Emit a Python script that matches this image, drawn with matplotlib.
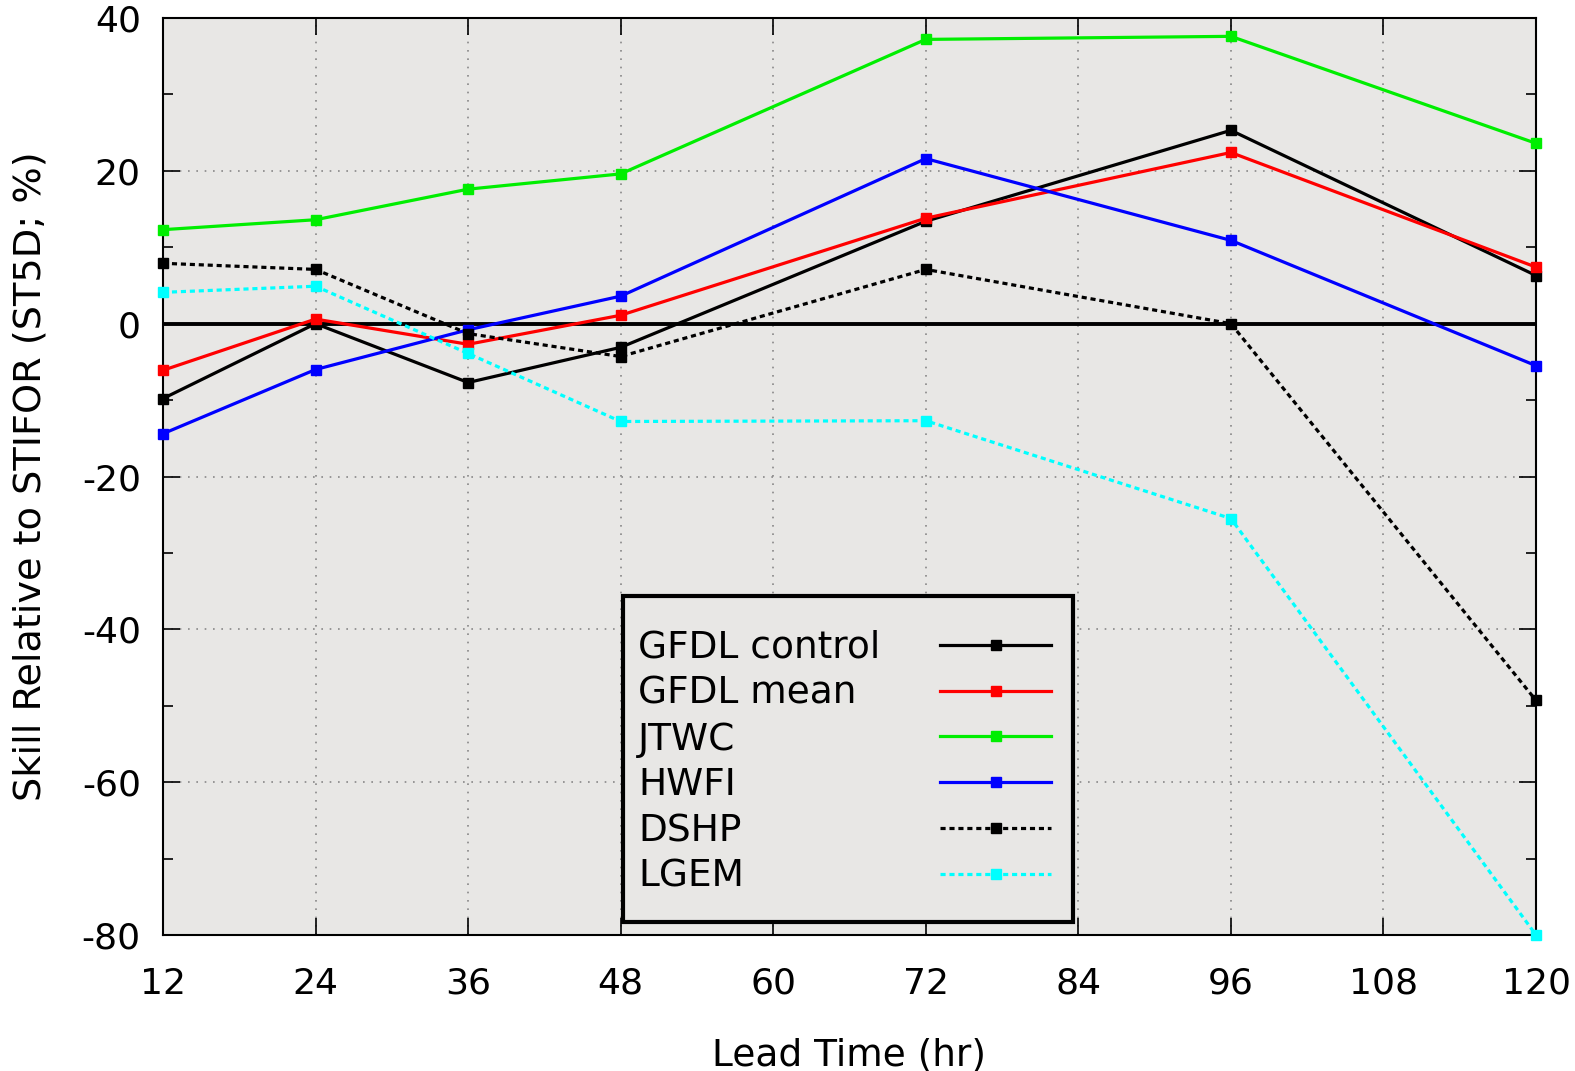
import matplotlib
matplotlib.use("Agg")
import matplotlib.pyplot as plt
from matplotlib.patches import Rectangle

lead = [12, 24, 36, 48, 72, 96, 120]
gfdl_control = [-9.8, 0.0, -7.7, -3.1, 13.4, 25.3, 6.3]
gfdl_mean = [-6.1, 0.6, -2.7, 1.1, 13.8, 22.4, 7.4]
jtwc = [12.3, 13.6, 17.6, 19.6, 37.2, 37.6, 23.6]
hwfi = [-14.4, -6.0, -0.8, 3.6, 21.6, 10.9, -5.5]
dshp = [7.9, 7.1, -1.3, -4.3, 7.1, 0.0, -49.3]
lgem = [4.1, 4.9, -3.9, -12.8, -12.7, -25.5, -80.0]
xticks = [12, 24, 36, 48, 60, 72, 84, 96, 108, 120]
yticks = [-80, -60, -40, -20, 0, 20, 40]

plt.rcParams['font.family'] = ['DejaVu Sans']
plt.rcParams['axes.unicode_minus'] = False
W, H = 1575, 1071
fig = plt.figure(figsize=(W/100, H/100), dpi=100)
AX_L, AX_R, AX_T, AX_B = 163, 1536, 18, 935
ax = fig.add_axes([AX_L/W, 1 - AX_B/H, (AX_R-AX_L)/W, (AX_B-AX_T)/H])
bg = '#e8e7e5'
ax.set_facecolor(bg)

ax.axhline(0, color='black', lw=2.8, zorder=2)
series = [
    ("GFDL control", gfdl_control, 'black', '-'),
    ("GFDL mean", gfdl_mean, '#ff0000', '-'),
    ("JTWC", jtwc, '#00ee00', '-'),
    ("HWFI", hwfi, '#0000ff', '-'),
    ("DSHP", dshp, 'black', (0, (1.6, 1.2))),
    ("LGEM", lgem, '#00ffff', (0, (1.6, 1.2))),
]
for name, vals, c, ls in series:
    ax.plot(lead, vals, color=c, ls=ls, lw=2.3, marker='s', ms=6.5, label=name,
            clip_on=False, zorder=3)

ax.set_xlim(12, 120)
ax.set_ylim(-80, 40)
ax.set_xticks(xticks)
ax.set_yticks(yticks)
ax.set_yticks(range(-70, 40, 20), minor=True)
ax.grid(True, which='major', color='#888888', ls=(0, (1, 4)), lw=1.2)
ax.tick_params(which='both', direction='in', top=True, right=True, labelsize=26,
               width=1.2)
ax.tick_params(which='major', length=12)
ax.tick_params(axis='x', which='major', pad=23)
ax.tick_params(axis='y', which='major', pad=16)
ax.tick_params(which='minor', length=7)
for s in ax.spines.values():
    s.set_linewidth(1.5)
ax.set_xlabel("Lead Time (hr)", fontsize=27, labelpad=26)
ax.set_ylabel("Skill Relative to STIFOR (ST5D; %)", fontsize=27.5, labelpad=24)

# legend: texts left, handles right
FR_L, FR_T = 623, 596   # frame top-left in pixels
VTOP, VBOT = 19, 12
leg = ax.legend(loc='upper left',
                bbox_to_anchor=((FR_L-AX_L)/(AX_R-AX_L), (AX_B-(FR_T+VTOP))/(AX_B-AX_T)),
                markerfirst=False, fontsize=27, handlelength=2.95, frameon=False,
                borderpad=0.4, labelspacing=0.26, handletextpad=1.6, borderaxespad=0)
leg.set_zorder(6)

fig.canvas.draw()
r = fig.canvas.get_renderer()
rows = []
for col in leg._legend_handle_box.get_children():
    rows.extend(col.get_children())
widths = [row.get_children()[0].get_window_extent(r).width for row in rows]
maxw = max(widths)
for row, w in zip(rows, widths):
    row.sep = row.sep + (maxw - w) * 72.0 / fig.dpi
fig.canvas.draw()

bb = leg.get_window_extent(fig.canvas.get_renderer())
inv = ax.transAxes.inverted()
x0, y0 = inv.transform((bb.x0, bb.y0 - VBOT))
x1, y1 = inv.transform((bb.x1 + 7, bb.y1 + VTOP))
frame = Rectangle((x0, y0), x1 - x0, y1 - y0, transform=ax.transAxes,
                  facecolor=bg, edgecolor='black', lw=3, zorder=5, clip_on=False)
ax.add_patch(frame)

fig.savefig("out.png", dpi=100)
